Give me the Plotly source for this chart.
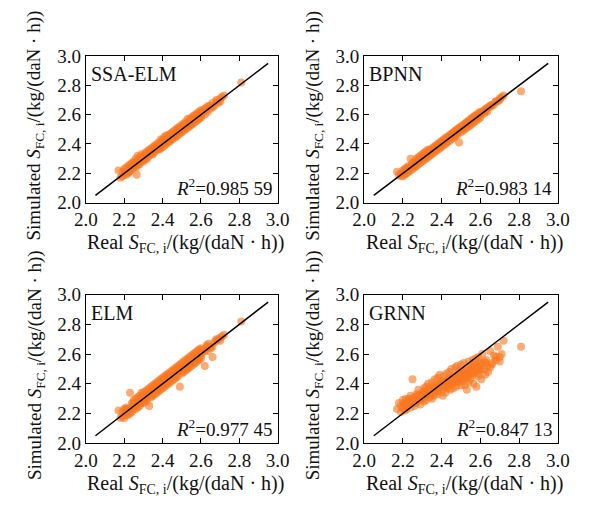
import plotly.graph_objects as go

# Measured (real) specific fuel consumption, shared by all four models
real_sfc = [
    2.17, 2.18, 2.19, 2.19, 2.20, 2.20, 2.21, 2.21, 2.215, 2.22,
    2.22, 2.23, 2.23, 2.24, 2.24, 2.25, 2.25, 2.26, 2.26, 2.265,
    2.27, 2.27, 2.28, 2.28, 2.29, 2.29, 2.30, 2.30, 2.31, 2.31,
    2.315, 2.32, 2.32, 2.33, 2.33, 2.34, 2.34, 2.345, 2.35, 2.35,
    2.36, 2.36, 2.365, 2.37, 2.37, 2.38, 2.38, 2.385, 2.39, 2.39,
    2.40, 2.40, 2.405, 2.41, 2.41, 2.42, 2.42, 2.425, 2.43, 2.43,
    2.44, 2.44, 2.445, 2.45, 2.45, 2.455, 2.46, 2.46, 2.47, 2.47,
    2.475, 2.48, 2.48, 2.485, 2.49, 2.49, 2.50, 2.50, 2.505, 2.51,
    2.51, 2.515, 2.52, 2.52, 2.53, 2.53, 2.535, 2.54, 2.54, 2.545,
    2.55, 2.55, 2.56, 2.56, 2.565, 2.57, 2.57, 2.575, 2.58, 2.58,
    2.59, 2.59, 2.60, 2.60, 2.605, 2.61, 2.62, 2.625, 2.63, 2.635,
    2.64, 2.65, 2.66, 2.67, 2.68, 2.69, 2.70, 2.71, 2.72, 2.81,
    2.205, 2.235, 2.245, 2.255, 2.275, 2.285, 2.295, 2.305, 2.325, 2.335,
    2.355, 2.375, 2.395, 2.415, 2.435, 2.465, 2.495, 2.525, 2.555, 2.585,
    2.36, 2.39, 2.42, 2.45, 2.48, 2.51, 2.54, 2.57, 2.60, 2.62,
    2.28, 2.31, 2.34, 2.44, 2.47, 2.50, 2.53, 2.56, 2.59, 2.65,
    2.21, 2.23, 2.25, 2.27, 2.29, 2.31, 2.33, 2.35, 2.37, 2.39,
    2.41, 2.43, 2.45, 2.47, 2.49, 2.51, 2.53, 2.55, 2.57, 2.59,
    2.22, 2.26, 2.30, 2.34, 2.38, 2.42, 2.46, 2.50, 2.54, 2.58,
    2.40, 2.44, 2.48, 2.52, 2.56, 2.60, 2.63, 2.66, 2.68, 2.70,
]

# Simulated values from each model
sim_ssa_elm = [
    2.22, 2.17, 2.21, 2.18, 2.23, 2.19, 2.24, 2.19, 2.21, 2.25,
    2.20, 2.26, 2.21, 2.27, 2.23, 2.28, 2.24, 2.30, 2.24, 2.19,
    2.32, 2.26, 2.31, 2.26, 2.33, 2.28, 2.32, 2.28, 2.34, 2.30,
    2.32, 2.35, 2.30, 2.36, 2.32, 2.37, 2.33, 2.35, 2.38, 2.33,
    2.39, 2.35, 2.37, 2.40, 2.36, 2.41, 2.36, 2.39, 2.43, 2.37,
    2.43, 2.38, 2.41, 2.45, 2.39, 2.46, 2.40, 2.43, 2.46, 2.41,
    2.47, 2.42, 2.45, 2.48, 2.43, 2.46, 2.49, 2.44, 2.50, 2.45,
    2.48, 2.51, 2.46, 2.49, 2.52, 2.47, 2.53, 2.48, 2.51, 2.54,
    2.49, 2.52, 2.55, 2.50, 2.57, 2.51, 2.54, 2.57, 2.52, 2.55,
    2.58, 2.53, 2.59, 2.54, 2.57, 2.60, 2.55, 2.58, 2.61, 2.56,
    2.62, 2.57, 2.63, 2.58, 2.61, 2.63, 2.60, 2.63, 2.65, 2.62,
    2.66, 2.64, 2.68, 2.66, 2.70, 2.68, 2.71, 2.72, 2.73, 2.82,
    2.21, 2.25, 2.24, 2.27, 2.27, 2.30, 2.29, 2.32, 2.33, 2.34,
    2.36, 2.37, 2.41, 2.41, 2.44, 2.47, 2.49, 2.53, 2.56, 2.58,
    2.37, 2.40, 2.43, 2.46, 2.49, 2.52, 2.55, 2.58, 2.61, 2.64,
    2.29, 2.32, 2.35, 2.45, 2.48, 2.51, 2.54, 2.57, 2.60, 2.66,
    2.22, 2.22, 2.26, 2.26, 2.30, 2.30, 2.34, 2.34, 2.38, 2.38,
    2.42, 2.42, 2.46, 2.46, 2.50, 2.50, 2.54, 2.54, 2.58, 2.58,
    2.21, 2.27, 2.29, 2.35, 2.37, 2.43, 2.45, 2.51, 2.53, 2.59,
    2.41, 2.43, 2.49, 2.51, 2.57, 2.59, 2.64, 2.65, 2.69, 2.69,
]
sim_bpnn = [
    2.21, 2.19, 2.20, 2.18, 2.22, 2.18, 2.23, 2.19, 2.20, 2.24,
    2.20, 2.25, 2.21, 2.30, 2.22, 2.27, 2.23, 2.28, 2.24, 2.25,
    2.30, 2.25, 2.31, 2.26, 2.32, 2.27, 2.33, 2.28, 2.34, 2.29,
    2.31, 2.35, 2.30, 2.36, 2.31, 2.36, 2.32, 2.34, 2.37, 2.33,
    2.38, 2.34, 2.36, 2.39, 2.35, 2.40, 2.36, 2.38, 2.41, 2.37,
    2.42, 2.38, 2.40, 2.43, 2.39, 2.44, 2.40, 2.42, 2.45, 2.41,
    2.46, 2.42, 2.44, 2.47, 2.43, 2.45, 2.48, 2.44, 2.49, 2.45,
    2.47, 2.50, 2.46, 2.48, 2.51, 2.41, 2.52, 2.48, 2.50, 2.53,
    2.49, 2.51, 2.54, 2.50, 2.55, 2.51, 2.53, 2.56, 2.52, 2.54,
    2.57, 2.53, 2.58, 2.54, 2.56, 2.59, 2.55, 2.57, 2.60, 2.56,
    2.61, 2.57, 2.62, 2.58, 2.60, 2.62, 2.61, 2.62, 2.64, 2.62,
    2.65, 2.65, 2.67, 2.67, 2.69, 2.69, 2.71, 2.72, 2.73, 2.76,
    2.21, 2.24, 2.25, 2.26, 2.28, 2.29, 2.30, 2.31, 2.33, 2.34,
    2.36, 2.38, 2.40, 2.42, 2.44, 2.47, 2.50, 2.53, 2.56, 2.59,
    2.37, 2.40, 2.43, 2.46, 2.49, 2.52, 2.55, 2.58, 2.61, 2.63,
    2.29, 2.32, 2.35, 2.45, 2.48, 2.51, 2.54, 2.57, 2.60, 2.66,
    2.22, 2.23, 2.26, 2.27, 2.30, 2.31, 2.34, 2.35, 2.38, 2.39,
    2.42, 2.43, 2.46, 2.47, 2.50, 2.51, 2.54, 2.55, 2.58, 2.59,
    2.23, 2.26, 2.31, 2.34, 2.39, 2.42, 2.47, 2.50, 2.55, 2.58,
    2.41, 2.44, 2.49, 2.52, 2.57, 2.60, 2.64, 2.66, 2.69, 2.70,
]
sim_elm = [
    2.22, 2.17, 2.21, 2.18, 2.23, 2.17, 2.24, 2.19, 2.21, 2.23,
    2.19, 2.34, 2.20, 2.27, 2.21, 2.29, 2.23, 2.30, 2.23, 2.26,
    2.31, 2.24, 2.32, 2.25, 2.34, 2.27, 2.34, 2.27, 2.35, 2.28,
    2.32, 2.36, 2.29, 2.37, 2.25, 2.38, 2.31, 2.35, 2.39, 2.32,
    2.40, 2.33, 2.37, 2.41, 2.34, 2.42, 2.35, 2.39, 2.43, 2.36,
    2.44, 2.37, 2.41, 2.45, 2.38, 2.46, 2.39, 2.43, 2.47, 2.40,
    2.48, 2.41, 2.45, 2.49, 2.42, 2.46, 2.50, 2.43, 2.51, 2.44,
    2.48, 2.52, 2.45, 2.49, 2.53, 2.38, 2.54, 2.47, 2.51, 2.55,
    2.48, 2.52, 2.56, 2.49, 2.57, 2.50, 2.54, 2.58, 2.51, 2.55,
    2.59, 2.52, 2.60, 2.53, 2.57, 2.61, 2.54, 2.58, 2.62, 2.55,
    2.63, 2.56, 2.64, 2.57, 2.61, 2.63, 2.52, 2.63, 2.66, 2.62,
    2.67, 2.65, 2.58, 2.68, 2.69, 2.70, 2.71, 2.72, 2.73, 2.82,
    2.22, 2.23, 2.26, 2.25, 2.29, 2.27, 2.31, 2.30, 2.34, 2.32,
    2.37, 2.36, 2.41, 2.40, 2.45, 2.45, 2.51, 2.51, 2.57, 2.57,
    2.38, 2.38, 2.44, 2.44, 2.50, 2.50, 2.56, 2.56, 2.62, 2.62,
    2.30, 2.30, 2.36, 2.43, 2.49, 2.49, 2.55, 2.55, 2.61, 2.64,
    2.23, 2.22, 2.27, 2.26, 2.31, 2.30, 2.35, 2.34, 2.39, 2.38,
    2.43, 2.42, 2.47, 2.46, 2.51, 2.50, 2.55, 2.54, 2.59, 2.58,
    2.21, 2.27, 2.29, 2.35, 2.37, 2.43, 2.45, 2.51, 2.53, 2.59,
    2.42, 2.43, 2.50, 2.51, 2.58, 2.59, 2.65, 2.65, 2.70, 2.69,
]
sim_grnn = [
    2.23, 2.27, 2.21, 2.25, 2.29, 2.24, 2.22, 2.27, 2.30, 2.25,
    2.23, 2.30, 2.26, 2.24, 2.32, 2.43, 2.27, 2.25, 2.31, 2.28,
    2.33, 2.27, 2.29, 2.36, 2.31, 2.26, 2.34, 2.30, 2.37, 2.28,
    2.32, 2.38, 2.29, 2.34, 2.40, 2.31, 2.36, 2.33, 2.41, 2.30,
    2.37, 2.32, 2.43, 2.35, 2.39, 2.33, 2.44, 2.36, 2.40, 2.46,
    2.36, 2.42, 2.32, 2.45, 2.38, 2.34, 2.41, 2.47, 2.37, 2.43,
    2.39, 2.48, 2.36, 2.43, 2.50, 2.40, 2.37, 2.45, 2.42, 2.51,
    2.38, 2.46, 2.52, 2.41, 2.44, 2.49, 2.39, 2.53, 2.43, 2.47,
    2.42, 2.54, 2.45, 2.39, 2.49, 2.36, 2.44, 2.55, 2.41, 2.48,
    2.51, 2.43, 2.56, 2.46, 2.40, 2.53, 2.48, 2.57, 2.38, 2.50,
    2.45, 2.58, 2.49, 2.54, 2.43, 2.60, 2.50, 2.46, 2.56, 2.52,
    2.48, 2.62, 2.54, 2.59, 2.56, 2.65, 2.58, 2.60, 2.69, 2.65,
    2.26, 2.28, 2.30, 2.27, 2.32, 2.29, 2.33, 2.31, 2.35, 2.33,
    2.38, 2.35, 2.39, 2.41, 2.43, 2.41, 2.46, 2.44, 2.50, 2.47,
    2.34, 2.39, 2.38, 2.44, 2.42, 2.48, 2.46, 2.51, 2.53, 2.55,
    2.31, 2.35, 2.37, 2.40, 2.45, 2.47, 2.50, 2.52, 2.55, 2.51,
    2.25, 2.28, 2.29, 2.31, 2.30, 2.33, 2.34, 2.34, 2.37, 2.38,
    2.40, 2.39, 2.42, 2.44, 2.43, 2.46, 2.47, 2.47, 2.50, 2.51,
    2.27, 2.28, 2.33, 2.35, 2.36, 2.40, 2.43, 2.44, 2.48, 2.49,
    2.39, 2.40, 2.44, 2.45, 2.49, 2.50, 2.54, 2.53, 2.58, 2.55,
]

model_names = ["SSA-ELM", "BPNN", "ELM", "GRNN"]
r2_labels = ["0.985 59", "0.983 14", "0.977 45", "0.847 13"]
sim_series = [sim_ssa_elm, sim_bpnn, sim_elm, sim_grnn]

# 1:1 reference line
ref_line = [2.05, 2.95]

axis_range = [2.0, 3.0]
tick_vals = [2.0, 2.2, 2.4, 2.6, 2.8, 3.0]
tick_text = ["2.0", "2.2", "2.4", "2.6", "2.8", "3.0"]

W, H = 590, 505
FONT = "Liberation Serif"
TXT = "#111111"
ORANGE = "rgba(248,120,32,0.62)"

# panel boxes in pixels: (left, right, top, bottom)
boxes = [(77, 277, 48, 201), (367, 569, 48, 201),
         (77, 277, 297, 452), (367, 569, 297, 452)]

fig = go.Figure()
layout = dict(
    width=W, height=H, margin=dict(l=0, r=0, t=0, b=0),
    paper_bgcolor="white", plot_bgcolor="white", showlegend=False,
)
annotations = []

xtitle = "Real <i>S</i><sub>FC, i</sub>/(kg/(daN · h))"
ytitle = "Simulated <i>S</i><sub>FC, i</sub>/(kg/(daN · h))"

for i, (name, r2, sim) in enumerate(zip(model_names, r2_labels, sim_series)):
    l, r, t, b = boxes[i]
    xa = "xaxis" if i == 0 else f"xaxis{i+1}"
    ya = "yaxis" if i == 0 else f"yaxis{i+1}"
    xref = "x" if i == 0 else f"x{i+1}"
    yref = "y" if i == 0 else f"y{i+1}"

    fig.add_trace(go.Scatter(
        x=real_sfc, y=sim, mode="markers", xaxis=xref, yaxis=yref,
        marker=dict(size=8, color=ORANGE, line=dict(width=0)),
    ))
    fig.add_trace(go.Scatter(
        x=ref_line, y=ref_line, mode="lines", xaxis=xref, yaxis=yref,
        line=dict(color="black", width=1.5),
    ))

    common = dict(
        range=axis_range, tickvals=tick_vals, ticktext=tick_text,
        ticks="inside", ticklen=5, tickwidth=1, tickcolor="black",
        showline=True, linecolor="black", linewidth=1, mirror="ticks",
        showgrid=False, zeroline=False,
        tickfont=dict(family=FONT, size=19, color=TXT),
    )
    layout[xa] = dict(common, domain=[l / W, r / W], anchor=yref)
    layout[ya] = dict(common, domain=[1 - b / H, 1 - t / H], anchor=xref)

    annotations.append(dict(
        xref="paper", yref="paper", x=(l + 3) / W, y=1 - (t + 19) / H,
        text=name, showarrow=False, xanchor="left", yanchor="middle",
        font=dict(family=FONT, size=20, color=TXT),
    ))
    annotations.append(dict(
        xref="paper", yref="paper", x=(r - 4) / W, y=1 - (b - 16) / H,
        text=f"<i>R</i><sup>2</sup>={r2}", showarrow=False,
        xanchor="right", yanchor="middle",
        font=dict(family=FONT, size=19, color=TXT),
    ))
    annotations.append(dict(
        xref="paper", yref="paper", x=((l + r) / 2 + 4) / W, y=1 - (b + 43) / H,
        text=xtitle, showarrow=False, xanchor="center", yanchor="middle",
        font=dict(family=FONT, size=20, color=TXT),
    ))
    annotations.append(dict(
        xref="paper", yref="paper", x=(l - 52) / W, y=1 - ((t + b) / 2 - 4) / H,
        text=ytitle, showarrow=False, xanchor="center", yanchor="middle",
        textangle=-90, font=dict(family=FONT, size=19, color=TXT),
    ))

layout["annotations"] = annotations
fig.update_layout(**layout)
fig.write_html("out.html")
